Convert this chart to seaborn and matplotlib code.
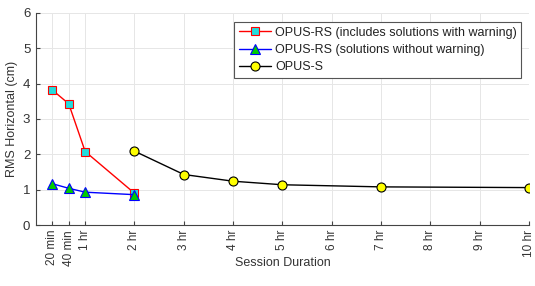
import numpy as np
import pandas as pd
import matplotlib
matplotlib.use('Agg')
import matplotlib.pyplot as plt
import seaborn as sns

# session durations in hours
rs_hours = [1/3, 2/3, 1, 2]
rs_warn = [3.82, 3.43, 2.08, 0.90]
rs_nowarn = [1.17, 1.04, 0.93, 0.86]
s_hours = [2, 3, 4, 5, 7, 10]
s_vals = [2.09, 1.43, 1.24, 1.14, 1.08, 1.06]

tick_pos = [1/3, 2/3, 1, 2, 3, 4, 5, 6, 7, 8, 9, 10]
tick_labels = ['20 min', '40 min', '1 hr', '2 hr', '3 hr', '4 hr', '5 hr',
               '6 hr', '7 hr', '8 hr', '9 hr', '10 hr']

sns.set_style('whitegrid')
plt.rcParams['font.family'] = ['Liberation Sans', 'DejaVu Sans']

fig = plt.figure(figsize=(5.35, 2.86), dpi=100)
ax = fig.add_axes([0.067, 0.213, 0.922, 0.742])

sns.lineplot(x=rs_hours, y=rs_warn, ax=ax, color='red', lw=1,
             marker='s', markersize=5.5, markerfacecolor='#22dddd',
             markeredgecolor='red', markeredgewidth=0.8,
             label='OPUS-RS (includes solutions with warning)')
sns.lineplot(x=rs_hours, y=rs_nowarn, ax=ax, color='blue', lw=1,
             marker='^', markersize=6.5, markerfacecolor='#00cc00',
             markeredgecolor='blue', markeredgewidth=0.8,
             label='OPUS-RS (solutions without warning)')
sns.lineplot(x=s_hours, y=s_vals, ax=ax, color='black', lw=1,
             marker='o', markersize=6.5, markerfacecolor='yellow',
             markeredgecolor='black', markeredgewidth=0.8,
             label='OPUS-S')

ax.set_xlim(0, 10)
ax.set_ylim(0, 6)
ax.set_xticks(tick_pos)
ax.set_xticklabels(tick_labels, rotation=90, fontsize=8.5, color='#333333')
ax.set_yticks(range(7))
ax.tick_params(axis='y', labelsize=9.5, labelcolor='#333333', pad=4)
ax.tick_params(direction='in', length=3, color='#444444', bottom=True, left=True)
ax.grid(True, color='#e6e6e6', lw=0.7)
ax.set_xlabel('Session Duration', fontsize=9, color='#333333', va='center')
ax.set_ylabel('RMS Horizontal (cm)', fontsize=9, color='#333333', va='center')
ax.xaxis.set_label_coords(0.5, -0.18)
ax.yaxis.set_label_coords(-0.049, 0.5)
for s in ['top', 'right']:
    ax.spines[s].set_visible(False)
for s in ['left', 'bottom']:
    ax.spines[s].set_color('#444444')
    ax.spines[s].set_linewidth(0.8)

leg = ax.legend(loc='upper right', bbox_to_anchor=(0.984, 0.955), fontsize=9,
                fancybox=False, framealpha=1, borderpad=0.35, labelspacing=0.42,
                handlelength=2.6, handletextpad=0.3, borderaxespad=0)
leg.get_frame().set_edgecolor('#555555')
leg.get_frame().set_linewidth(0.8)
for t in leg.get_texts():
    t.set_color('#222222')

fig.savefig('out.png', dpi=100)
